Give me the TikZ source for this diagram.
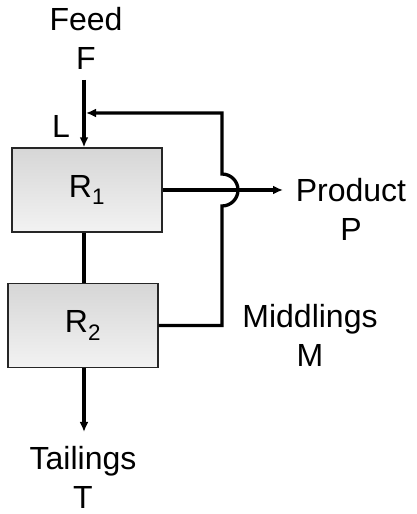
\documentclass[tikz,border=0pt]{standalone}
\usepackage{fontspec}
\setmainfont{Liberation Sans}
\usepackage{tikz}
\usetikzlibrary{arrows.meta}

\begin{document}
\begin{tikzpicture}[x=1pt, y=1pt,
	font=\fontsize{32}{39}\selectfont,
	unit/.style={draw=black!85, line width=1.4pt, rectangle, minimum width=150pt, minimum height=84pt, inner sep=0pt, top color=black!16, bottom color=black!5},
	flow/.style={line width=3.3pt},
	flowarrow/.style={flow, -{Latex[length=10pt, width=9pt]}},
	label/.style={align=center, inner sep=0pt}]
	\useasboundingbox (0,0) rectangle (417,514);

	\node[unit] (r1) at (87,324) {R\textsubscript{1}};
	\node[unit] (r2) at (83,188.5) {R\textsubscript{2}};

	\node[label] (feed) at (86,476) {Feed\\F};
	\node[label] (product) at (351,305) {Product\\P};
	\node[label] (middlings) at (310,179) {Middlings\\M};
	\node[label] (tailings) at (83,37) {Tailings\\T};
	\node[label] (lnode) at (61,388) {L};

	\coordinate (feedin) at (84,434);
	\coordinate (pout) at (283,324);
	\coordinate (tout) at (84,82);
	\coordinate (turn) at (222,401);

	\draw[flowarrow] (feedin) -- (feedin |- r1.north);
	\draw[flowarrow] (r1.east) -- (r1.east -| pout);
	\draw[flow] (r1.south -| feedin) -- (r2.north -| feedin);
	\draw[flowarrow] (r2.south -| tout) -- (tout);
	\draw[flowarrow] (r2.east) -- (r2.east -| turn) -- (222,308) arc[start angle=-90, end angle=90, radius=16] -- (turn) -- (86,401);
\end{tikzpicture}
\end{document}
